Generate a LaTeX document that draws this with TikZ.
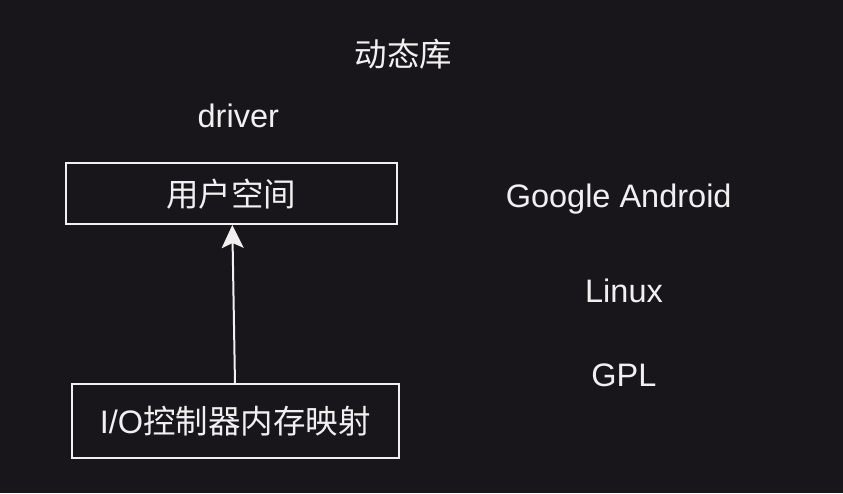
\documentclass[tikz,border=0pt]{standalone}
\usepackage{fontspec}
\setmainfont{Liberation Sans}
\newfontfamily\cjk{Noto Sans CJK SC}
\usetikzlibrary{arrows.meta}
\definecolor{bg}{HTML}{18161B}
\definecolor{fg}{HTML}{F0F0F0}
\tikzset{
  lbl/.style={text=fg, inner sep=0pt, font=\fontsize{32.5}{36}\selectfont},
  cjklbl/.style={text=fg, inner sep=0pt, font=\fontsize{32.5}{36}\selectfont\cjk},
  boxline/.style={draw=fg, line width=2pt},
  arr/.style={draw=fg, line width=2pt, -{Stealth[length=23pt,width=22pt,inset=5pt]}}
}
\begin{document}
\begin{tikzpicture}[x=1pt,y=-1pt]
\fill[bg] (0,0) rectangle (843,493);
\useasboundingbox (0,0) rectangle (843,493);
% boxes
\draw[boxline] (66,163.3) rectangle (396.7,224);
\draw[boxline] (71.7,384.3) rectangle (399,458.3);
\coordinate (topbot) at (232.3,225);
\coordinate (botTop) at (235,384.3);
\node[cjklbl] (user) at (231,193.7) {用户空间};
\node[lbl] (io) at (235.3,421.3) {I/O{\cjk 控制器内存映射}};
\draw[arr] (botTop) -- (topbot);
% free labels
\node[cjklbl] (dyn) at (403.5,54) {动态库};
\node[lbl, anchor=base] (drv) at (238.3,127.7) {driver};
\node[lbl, anchor=base] (ga) at (618.7,207.5) {Google Android};
\node[lbl, anchor=base] (lin) at (624,302.5) {Linux};
\node[lbl, anchor=base] (gpl) at (623.8,386) {GPL};
\end{tikzpicture}
\end{document}
